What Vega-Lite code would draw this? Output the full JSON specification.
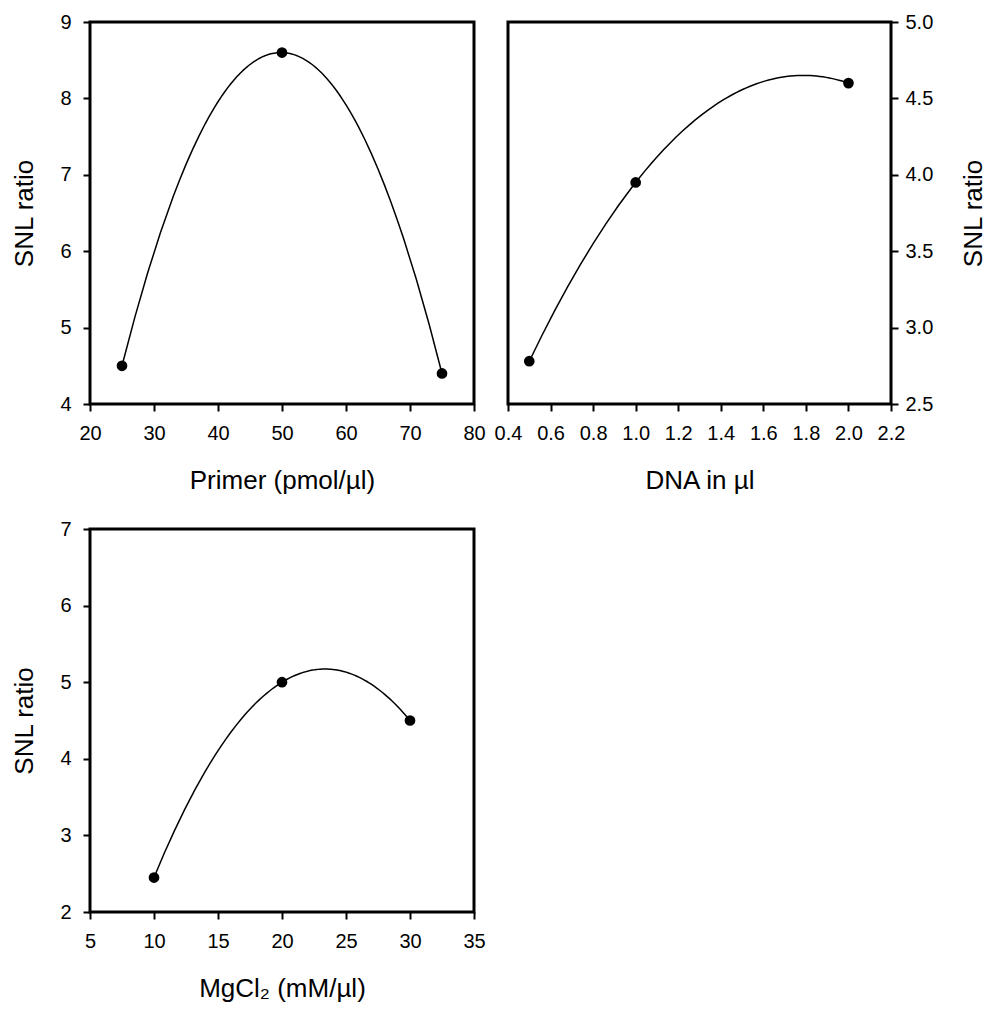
{
  "$schema": "https://vega.github.io/schema/vega-lite/v6.json",
  "background": "white",
  "padding": {"left": 10, "top": 10, "right": 5, "bottom": 5},
  "spacing": 22,
  "config": {
    "font": "Liberation Sans",
    "view": {"stroke": "black", "strokeWidth": 3},
    "axis": {
      "labelFont": "Liberation Sans", "labelFontSize": 20, "labelColor": "black",
      "titleFont": "Liberation Sans", "titleFontSize": 26, "titleFontWeight": "normal", "titleColor": "black",
      "tickColor": "black", "tickSize": 7, "tickWidth": 2, "grid": false, "domain": false,
      "labelFlush": false, "labelOverlap": false, "labelBound": false
    },
    "axisX": {"labelPadding": 12, "titlePadding": 24},
    "axisY": {"labelPadding": 12, "titlePadding": 22}
  },
  "datasets": {
    "primer": [
      {"x": 25, "snl": 4.5},
      {"x": 50, "snl": 8.6},
      {"x": 75, "snl": 4.4}
    ],
    "dna": [
      {"x": 0.5, "snl": 2.78},
      {"x": 1.0, "snl": 3.95},
      {"x": 2.0, "snl": 4.6}
    ],
    "mgcl": [
      {"x": 10, "snl": 2.45},
      {"x": 20, "snl": 5.0},
      {"x": 30, "snl": 4.5}
    ]
  },
  "vconcat": [
    {
      "spacing": 5,
      "hconcat": [
        {
          "width": 384, "height": 382,
          "data": {"name": "primer"},
          "encoding": {
            "x": {"field": "x", "type": "quantitative", "title": "Primer (pmol/µl)",
              "scale": {"domain": [20, 80], "nice": false, "zero": false},
              "axis": {"values": [20, 30, 40, 50, 60, 70, 80]}},
            "y": {"field": "snl", "type": "quantitative", "title": "SNL ratio",
              "scale": {"domain": [4, 9], "nice": false, "zero": false},
              "axis": {"values": [4, 5, 6, 7, 8, 9]}}
          },
          "layer": [
            {"transform": [{"regression": "snl", "on": "x", "method": "poly", "order": 2}],
             "mark": {"type": "line", "color": "black", "strokeWidth": 1.5}},
            {"mark": {"type": "point", "filled": true, "color": "black", "size": 115, "opacity": 1}}
          ]
        },
        {
          "width": 383, "height": 382,
          "data": {"name": "dna"},
          "encoding": {
            "x": {"field": "x", "type": "quantitative", "title": "DNA in µl",
              "scale": {"domain": [0.4, 2.2], "nice": false, "zero": false},
              "axis": {"values": [0.4, 0.6, 0.8, 1.0, 1.2, 1.4, 1.6, 1.8, 2.0, 2.2], "format": ".1f"}},
            "y": {"field": "snl", "type": "quantitative", "title": "SNL ratio",
              "scale": {"domain": [2.5, 5.0], "nice": false, "zero": false},
              "axis": {"orient": "right", "values": [2.5, 3.0, 3.5, 4.0, 4.5, 5.0], "format": ".1f",
                "labelPadding": 7, "titlePadding": 54, "titleAngle": 270}}
          },
          "layer": [
            {"transform": [{"regression": "snl", "on": "x", "method": "poly", "order": 2}],
             "mark": {"type": "line", "color": "black", "strokeWidth": 1.5}},
            {"mark": {"type": "point", "filled": true, "color": "black", "size": 115, "opacity": 1}}
          ]
        }
      ]
    },
    {
      "width": 384, "height": 383,
      "data": {"name": "mgcl"},
      "encoding": {
        "x": {"field": "x", "type": "quantitative", "title": "MgCl₂ (mM/µl)",
          "scale": {"domain": [5, 35], "nice": false, "zero": false},
          "axis": {"values": [5, 10, 15, 20, 25, 30, 35]}},
        "y": {"field": "snl", "type": "quantitative", "title": "SNL ratio",
          "scale": {"domain": [2, 7], "nice": false, "zero": false},
          "axis": {"values": [2, 3, 4, 5, 6, 7]}}
      },
      "layer": [
        {"transform": [{"regression": "snl", "on": "x", "method": "poly", "order": 2}],
         "mark": {"type": "line", "color": "black", "strokeWidth": 1.5}},
        {"mark": {"type": "point", "filled": true, "color": "black", "size": 115, "opacity": 1}}
      ]
    }
  ]
}
